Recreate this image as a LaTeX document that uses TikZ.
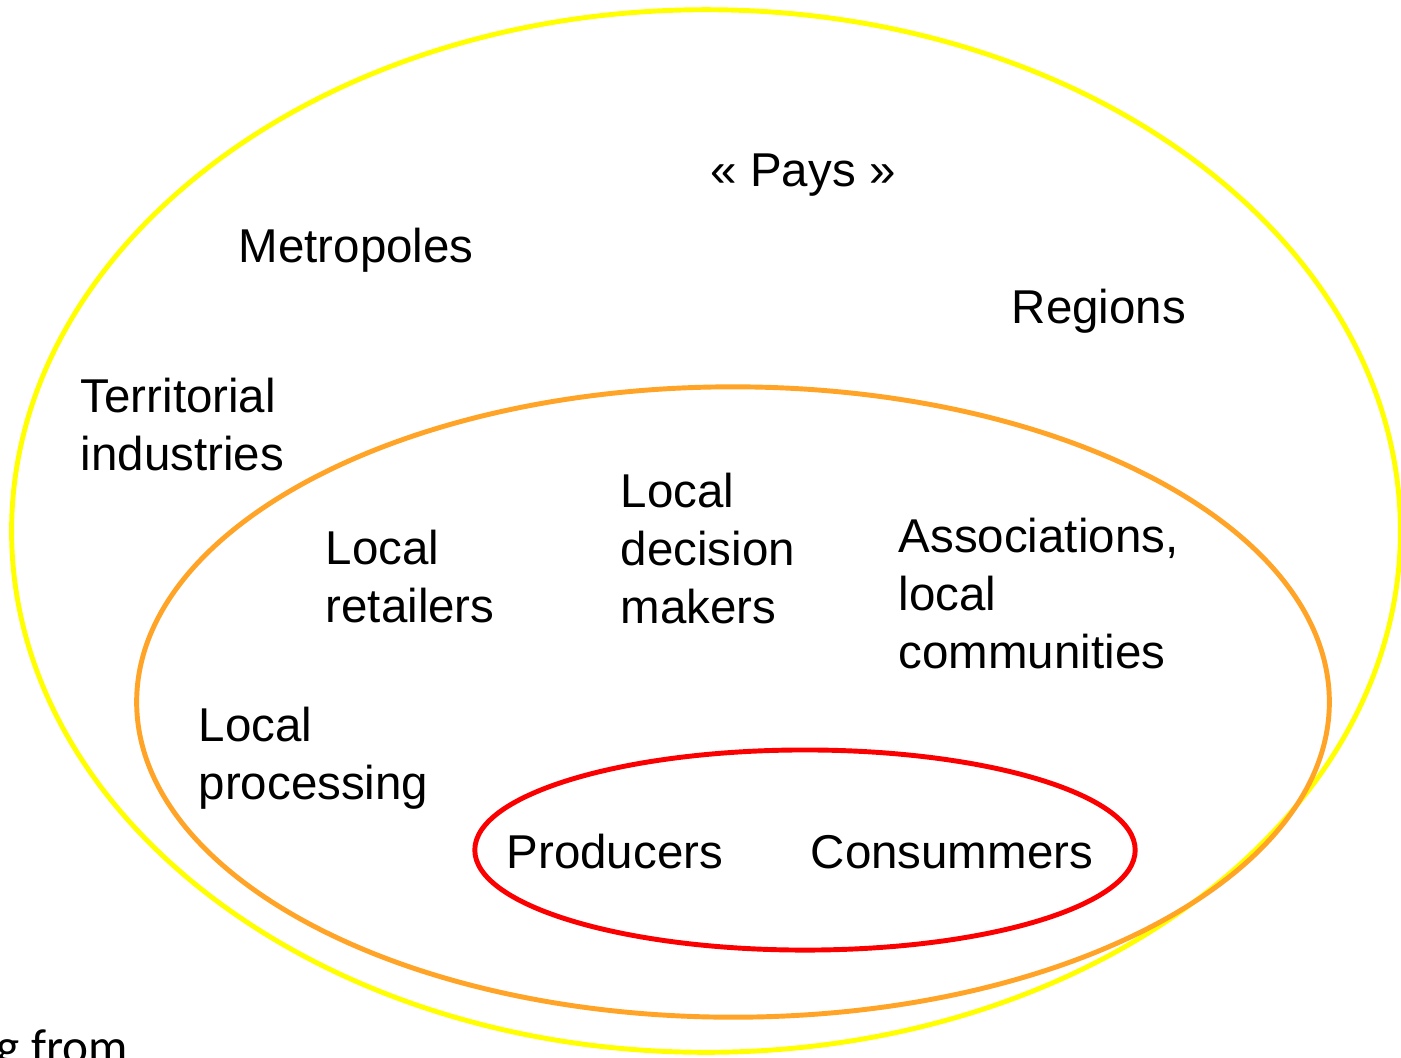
\documentclass[tikz,border=0pt]{standalone}
\usepackage{fontspec}
\setmainfont{Liberation Sans}
\newfontfamily\notefont{Carlito}
\definecolor{ringyellow}{RGB}{255,255,0}
\definecolor{ringorange}{RGB}{255,164,38}
\definecolor{ringred}{RGB}{250,0,0}
\tikzset{
  lbl/.style={anchor=base west, inner sep=0pt, align=left,
    font=\fontsize{13.5}{16.4}\selectfont},
  ring/.style={line width=1.4pt}
}
\begin{document}
\begin{tikzpicture}[x=0.01cm, y=-0.01cm]
      \useasboundingbox (0,0) rectangle (1401,1057);
      \clip (0,0) rectangle (1401,1057);
      \draw[ring, ringyellow] (706,531) ellipse [x radius=6.94cm, y radius=5.21cm];
      \draw[ring, ringorange] (733,702) ellipse [x radius=5.96cm, y radius=3.15cm];
      \draw[ring, ringred] (805,850) ellipse [x radius=3.30cm, y radius=1.00cm];
      % multi-line labels sit on their last line
      \node[lbl] (Pays) at (710,186) {« Pays »};
      \node[lbl] (Metro) at (238,262) {Metropoles};
      \node[lbl] (Reg) at (1011,323) {Regions};
      \node[lbl] (Terr) at (80,470) {Territorial\\industries};
      \node[lbl] (Ret) at (325,622) {Local\\retailers};
      \node[lbl] (Dec) at (620,623) {Local\\decision\\makers};
      \node[lbl] (Assoc) at (898,668) {Associations,\\local\\communities};
      \node[lbl] (Proc) at (198,799) {Local\\processing};
      \node[lbl] (Prod) at (506,868) {Producers};
      \node[lbl] (Cons) at (810,868) {Consummers};
      \node[anchor=base west, inner sep=0pt, font=\notefont\fontsize{14}{16}\selectfont] (Note) at (-4,1063) {g from};
    \end{tikzpicture}
\end{document}
